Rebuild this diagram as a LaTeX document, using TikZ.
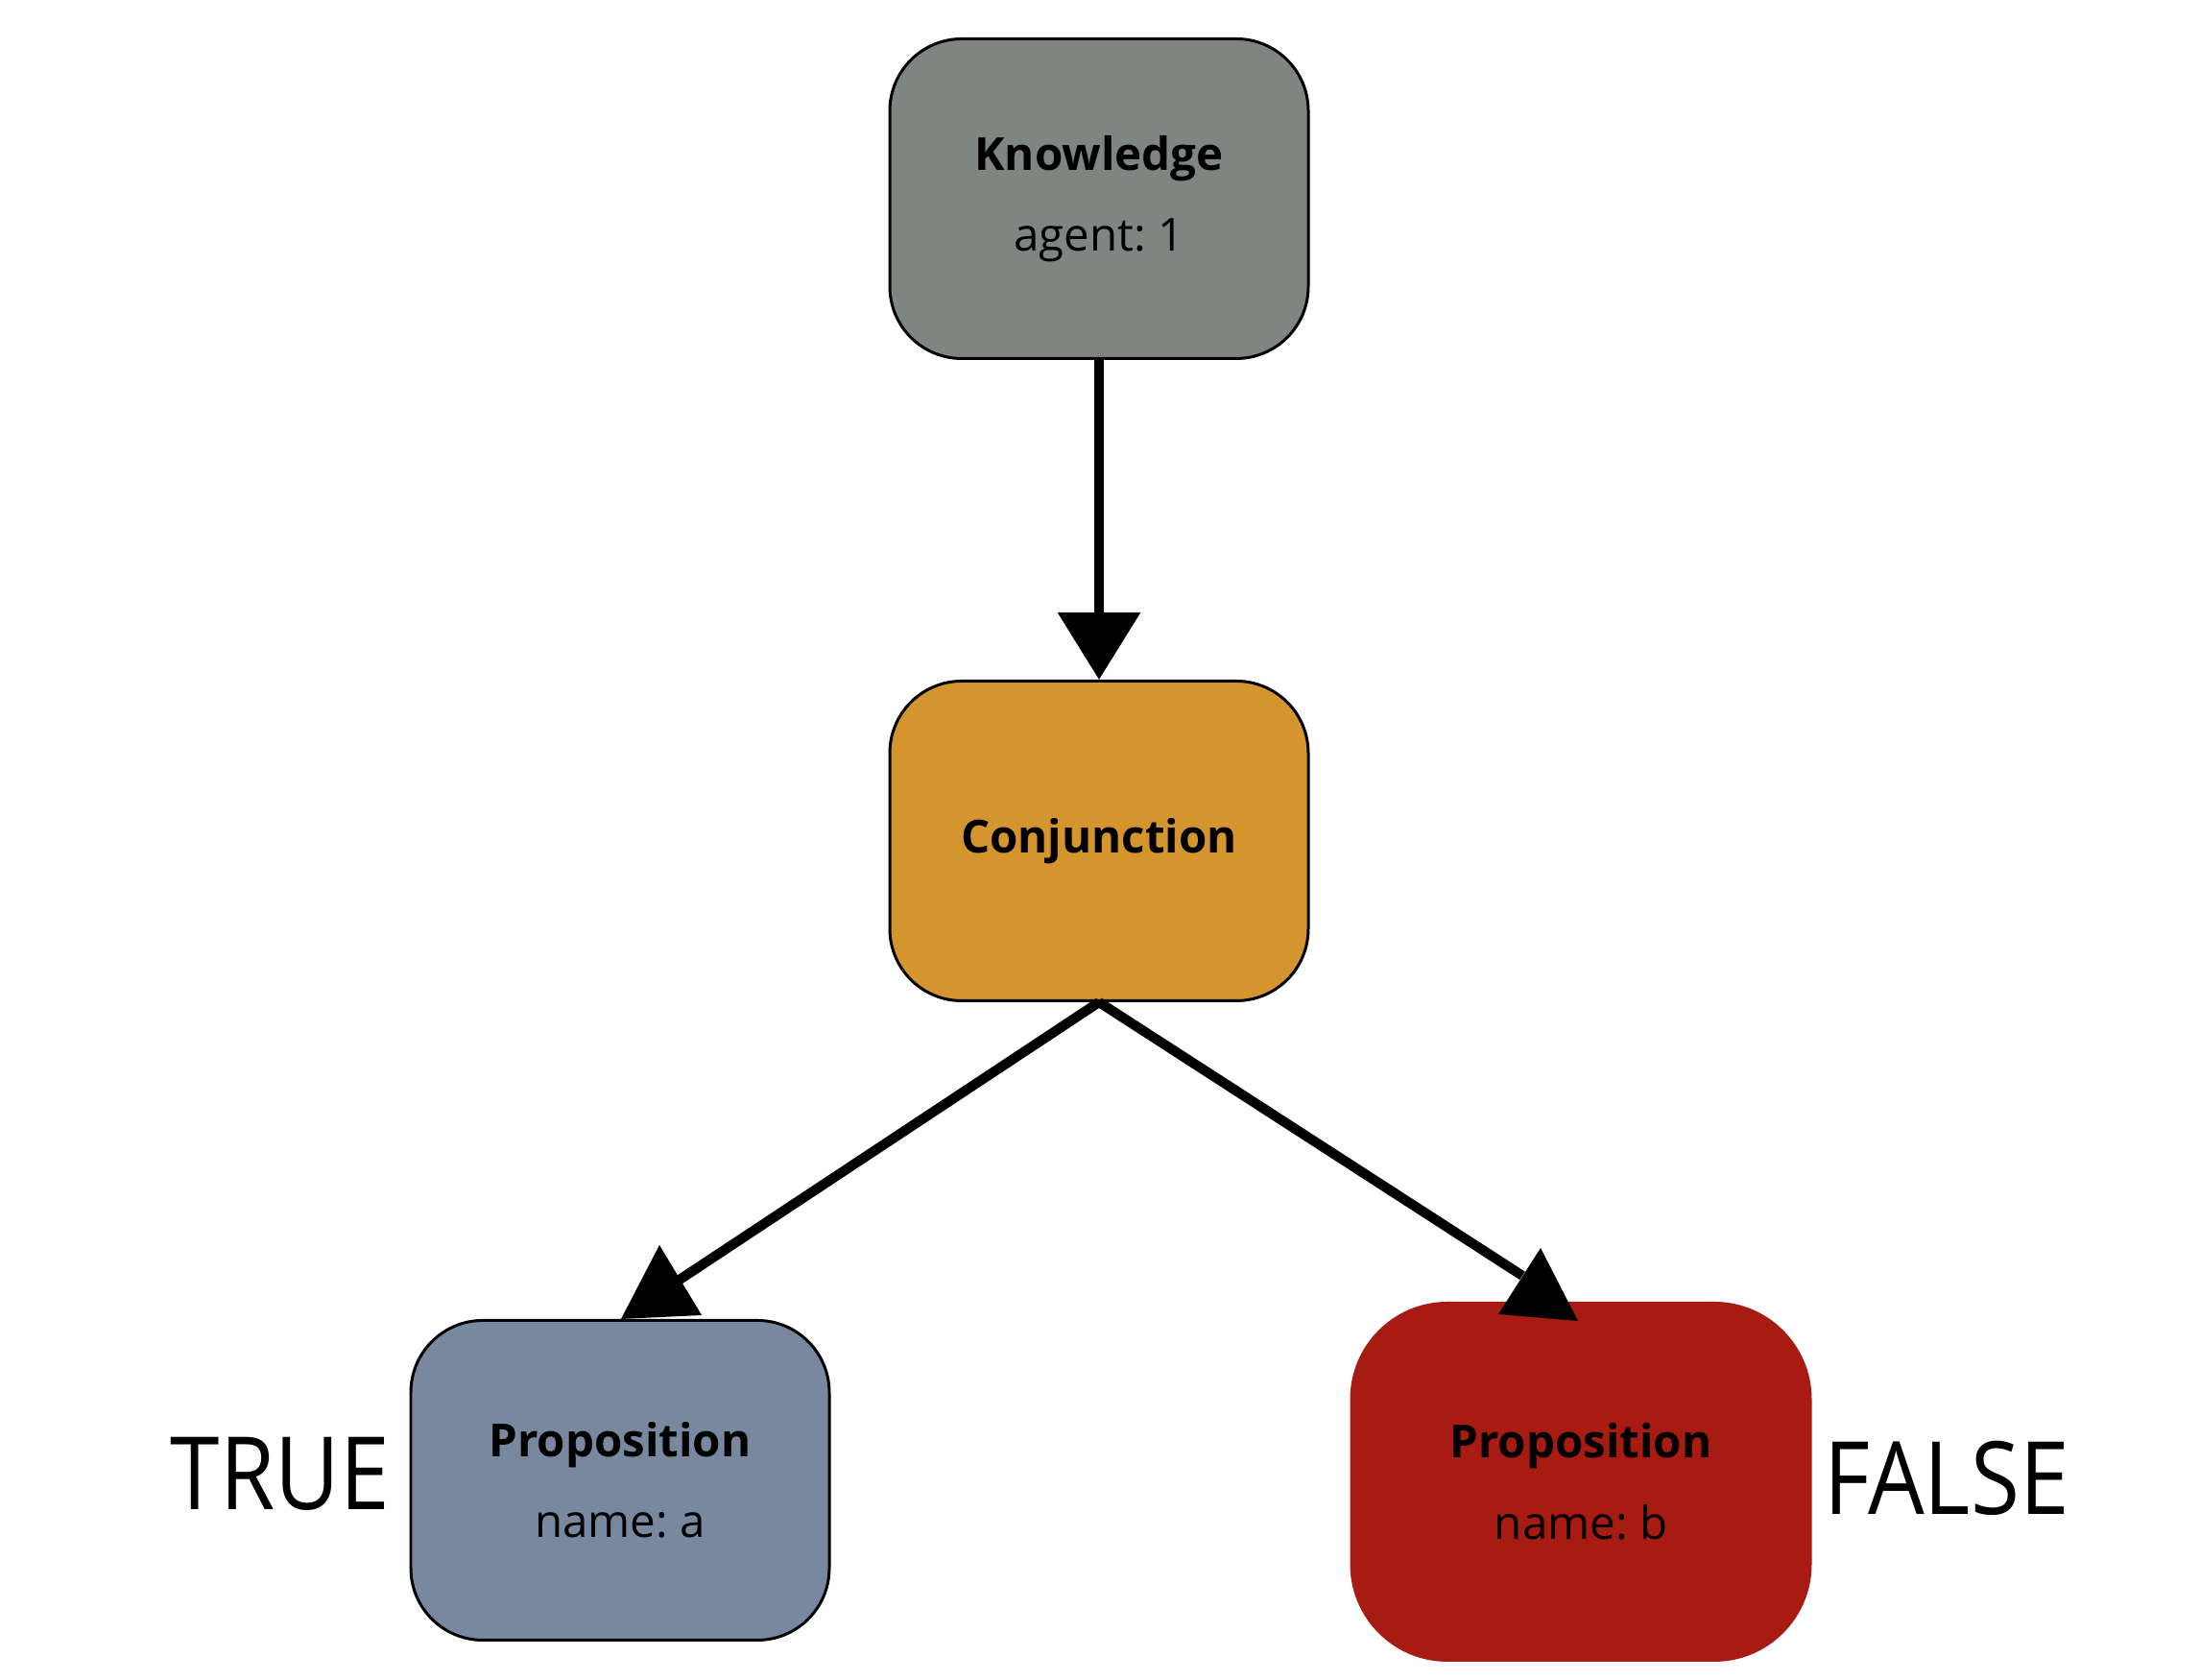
\documentclass[tikz,border=0pt]{standalone}
\usepackage{fontspec}
\setmainfont{Open Sans}
\usetikzlibrary{positioning, arrows.meta, calc}
\definecolor{knowgray}{HTML}{7F8682}
\definecolor{conjorange}{HTML}{D4952E}
\definecolor{trueblue}{HTML}{78889F}
\definecolor{falsered}{HTML}{A71B12}
\newcommand{\heading}[1]{{\bfseries #1}}
\tikzstyle{concept} = [rectangle, rounded corners=0.75cm, minimum width=4.36cm, minimum height=3.33cm, align=center, draw=black, line width=0.85pt, font=\fontsize{13.5}{16}\selectfont\frenchspacing]
\tikzstyle{knowledge} = [concept, fill=knowgray]
\tikzstyle{conjunction} = [concept, fill=conjorange]
\tikzstyle{truebox} = [concept, fill=trueblue]
\tikzstyle{falsebox} = [concept, rounded corners=1cm, minimum width=4.78cm, minimum height=3.72cm, draw=falsered, fill=falsered]
\tikzstyle{verdict} = [inner sep=0pt, font=\fontsize{30}{36}\selectfont\addfontfeature{FakeStretch=0.88}]
\tikzstyle{arrow} = [line width=2.9pt, -{Triangle[length=0.7cm, width=0.84cm]}]
\tikzstyle{link} = [line width=2.9pt]
\tikzstyle{headfill} = [fill=black]

\begin{document}
\begin{tikzpicture}
\useasboundingbox (0,0) rectangle (22.92,17.5);

\node (know) [knowledge] at (11.45,15.43) {\heading{Knowledge}\\[8pt]agent: 1};
\node (conj) [conjunction, below=3.33cm of know] {\heading{Conjunction}};
\node (propa) [truebox, below=3.30cm of conj, xshift=-4.99cm] {\heading{Proposition}\\[8pt]name: a};
\node (propb) [falsebox, below=3.12cm of conj, xshift=5.02cm] {\heading{Proposition}\\[8pt]name: b};

\node (true) [verdict, left=0.2cm of propa, yshift=0.07cm] {TRUE};
\node (false) [verdict, right=0.12cm of propb, yshift=0.04cm] {FALSE};

\draw [arrow] (know) -- (conj);

\draw [link, shorten >=0.68cm] (conj.south) -- (propa.north);
\draw [link, shorten >=0.5cm] (conj.south) -- ($(propb.north)+(-0.19,0)$);

% heads stand upright on the two lower boxes
\fill [headfill] ($(propa.north)+(0.41,0.77)$) -- ($(propa.north)+(0.01,0.0)$) -- ($(propa.north)+(0.85,0.04)$) -- cycle;
\fill [headfill] ($(propb.north)+(-0.42,0.56)$) -- ($(propb.north)+(-0.86,-0.13)$) -- ($(propb.north)+(-0.03,-0.20)$) -- cycle;

\end{tikzpicture}
\end{document}
